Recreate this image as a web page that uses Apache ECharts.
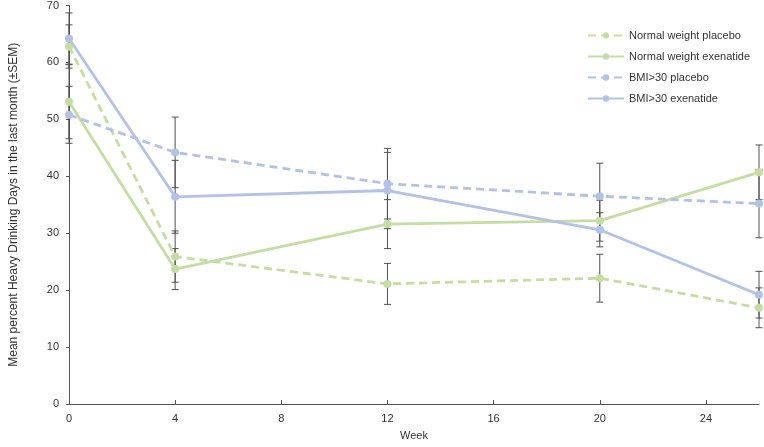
<!DOCTYPE html>
<html><head><meta charset="utf-8">
<script src="https://cdn.jsdelivr.net/npm/echarts@6/dist/echarts.min.js"></script>
<style>html,body{margin:0;padding:0;background:#fff}#c{width:764px;height:447px}</style>
</head><body><div id="c"></div>
<script>
const weeks = [0, 4, 12, 20, 26];
const seriesNames = ['Normal weight placebo', 'Normal weight exenatide', 'BMI>30 placebo', 'BMI>30 exenatide'];
const nwPlacebo = [62.8, 25.9, 21.1, 22.1, 16.9];
const nwPlaceboSem = [3.8, 4.5, 3.6, 4.2, 3.5];
const nwExen = [53.1, 23.7, 31.6, 32.2, 40.7];
const nwExenSem = [6.5, 3.6, 4.3, 3.6, 4.8];
const bmiPlacebo = [50.8, 44.2, 38.7, 36.5, 35.2];
const bmiPlaceboSem = [5.0, 6.2, 6.2, 5.8, 6.0];
const bmiExen = [64.2, 36.4, 37.5, 30.6, 19.2];
const bmiExenSem = [4.5, 6.4, 6.7, 3.0, 4.1];
const xTicks = [0, 4, 8, 12, 16, 20, 24];
const yTicks = [0, 10, 20, 30, 40, 50, 60, 70];

const green = '#c5dca3';
const blue = '#b3c1e7';
const font = 'Liberation Sans, Arial, sans-serif';

const groups = [
  {name: seriesNames[0], vals: nwPlacebo, sem: nwPlaceboSem, color: green, dash: true},
  {name: seriesNames[1], vals: nwExen, sem: nwExenSem, color: green, dash: false},
  {name: seriesNames[2], vals: bmiPlacebo, sem: bmiPlaceboSem, color: blue, dash: true},
  {name: seriesNames[3], vals: bmiExen, sem: bmiExenSem, color: blue, dash: false}
];

const errData = [];
groups.forEach(g => g.vals.forEach((v, i) => errData.push([weeks[i], v - g.sem[i], v + g.sem[i]])));

const series = [{
  type: 'custom',
  name: 'err',
  z: 1,
  silent: true,
  data: errData,
  renderItem: function (params, api) {
    const x = api.value(0);
    const lo = api.coord([x, api.value(1)]);
    const hi = api.coord([x, api.value(2)]);
    const hw = 3.5;
    const st = {stroke: '#505050', lineWidth: 1};
    return {type: 'group', children: [
      {type: 'line', shape: {x1: lo[0], y1: lo[1], x2: hi[0], y2: hi[1]}, style: st},
      {type: 'line', shape: {x1: lo[0] - hw, y1: lo[1], x2: lo[0] + hw, y2: lo[1]}, style: st},
      {type: 'line', shape: {x1: hi[0] - hw, y1: hi[1], x2: hi[0] + hw, y2: hi[1]}, style: st}
    ]};
  }
}];
groups.forEach(g => series.push({
  type: 'line',
  name: g.name,
  z: 3,
  data: g.vals.map((v, i) => [weeks[i], v]),
  symbol: 'circle',
  symbolSize: 8,
  itemStyle: {color: g.color},
  lineStyle: {color: g.color, width: 2.8, type: g.dash ? [8, 5] : 'solid'},
  emphasis: {disabled: true}
}));

const chart = echarts.init(document.getElementById('c'), null, {renderer: 'canvas'});
chart.setOption({
  animation: false,
  backgroundColor: '#fff',
  grid: {left: 57, right: 5, top: 5, bottom: 43, containLabel: false},
  legend: {
    data: seriesNames,
    orient: 'vertical',
    left: 582,
    top: 25,
    itemWidth: 36,
    itemHeight: 8,
    itemGap: 10,
    textStyle: {fontFamily: font, fontSize: 11, color: '#333'}
  },
  xAxis: {
    type: 'value', min: 0, max: 26, interval: 4,
    name: 'Week', nameLocation: 'middle', nameGap: 26,
    nameTextStyle: {fontFamily: font, fontSize: 11, color: '#333'},
    axisLine: {show: true, lineStyle: {color: '#555', width: 1}},
    axisTick: {show: true, inside: true, length: 4, lineStyle: {color: '#555'}, customValues: xTicks},
    axisLabel: {fontFamily: font, fontSize: 11, color: '#333', margin: 9, customValues: xTicks},
    splitLine: {show: false}
  },
  yAxis: {
    type: 'value', min: 0, max: 70, interval: 10,
    name: 'Mean percent Heavy Drinking Days in the last month (±SEM)',
    nameLocation: 'middle', nameGap: 49, nameRotate: 90,
    nameTextStyle: {fontFamily: font, fontSize: 12, color: '#333'},
    axisLine: {show: true, lineStyle: {color: '#555', width: 1}},
    axisTick: {show: true, length: 3, lineStyle: {color: '#555'}, customValues: yTicks},
    axisLabel: {fontFamily: font, fontSize: 11, color: '#333', margin: 10, customValues: yTicks},
    splitLine: {show: false}
  },
  series: series
});
</script></body></html>
